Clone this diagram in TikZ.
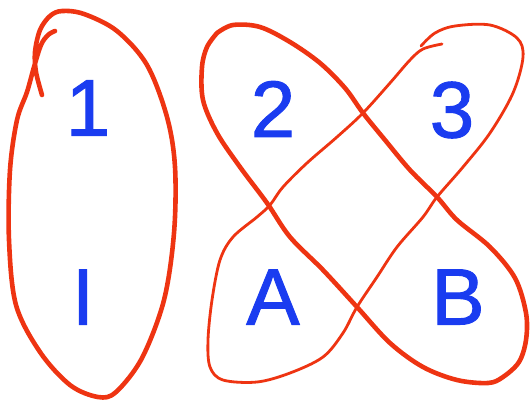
\documentclass[tikz,border=0pt]{standalone}
\usepackage{fontspec}
\setmainfont{Liberation Sans}
\newfontfamily\markfont{Liberation Sans}[FakeBold=1.2]
\definecolor{inkblue}{RGB}{26,60,240}
\definecolor{inkred}{RGB}{238,52,18}
\tikzset{
  letter/.style={text=inkblue, inner sep=0pt, font=\markfont\fontsize{80}{80}\selectfont},
  lasso/.style={draw=inkred, line width=4.6pt, line cap=round, line join=round},
  thinlasso/.style={lasso, line width=2.8pt}
}

\begin{document}
\begin{tikzpicture}[x=1pt, y=-1pt]
  \useasboundingbox (0,0) rectangle (532,400);
  \node[letter] (n1) at (88,108) {1};
  \node[letter] (nI) at (83,297) {I};
  \node[letter] (n2) at (273,109) {2};
  \node[letter] (n3) at (452,110) {3};
  \node[letter] (nA) at (273,297) {A};
  \node[letter] (nB) at (458,297) {B};

  \draw[lasso] plot[smooth, tension=0.55] coordinates {(42,95) (36,72) (35,52) (40,30) (50,16) (62,11) (84,14) (117,31) (147,65) (167,117) (175,167) (174,233) (164,300) (142,358) (116,392) (98,397) (70,385) (40,352) (16,305) (9,240) (10,170) (17,120) (27,92) (34,67) (41,45) (48,35) (55,31)};
  \draw[lasso] plot[smooth, tension=0.55] coordinates {(217,33) (233,25) (260,27) (290,42) (320,63) (345,88) (363,113) (385,140) (410,170) (437,197) (457,220) (490,247) (515,278) (526,313) (526,340) (519,362) (503,377) (488,383) (457,380) (423,367) (390,343) (357,307) (323,270) (290,237) (267,203) (240,167) (217,133) (203,100) (202,67) (207,47) (217,33)};
  \draw[thinlasso] plot[smooth, tension=0.55] coordinates {(421,46) (435,33) (455,26) (490,25) (517,38) (523,57) (513,93) (490,133) (463,167) (437,197) (423,217) (397,247) (377,277) (357,307) (343,333) (323,357) (290,373) (257,382) (223,380) (210,367) (208,340) (212,300) (220,260) (233,237) (257,217) (270,205) (283,187) (307,163) (337,137) (363,113) (390,83) (410,60) (423,49) (442,44)};
\end{tikzpicture}
\end{document}
